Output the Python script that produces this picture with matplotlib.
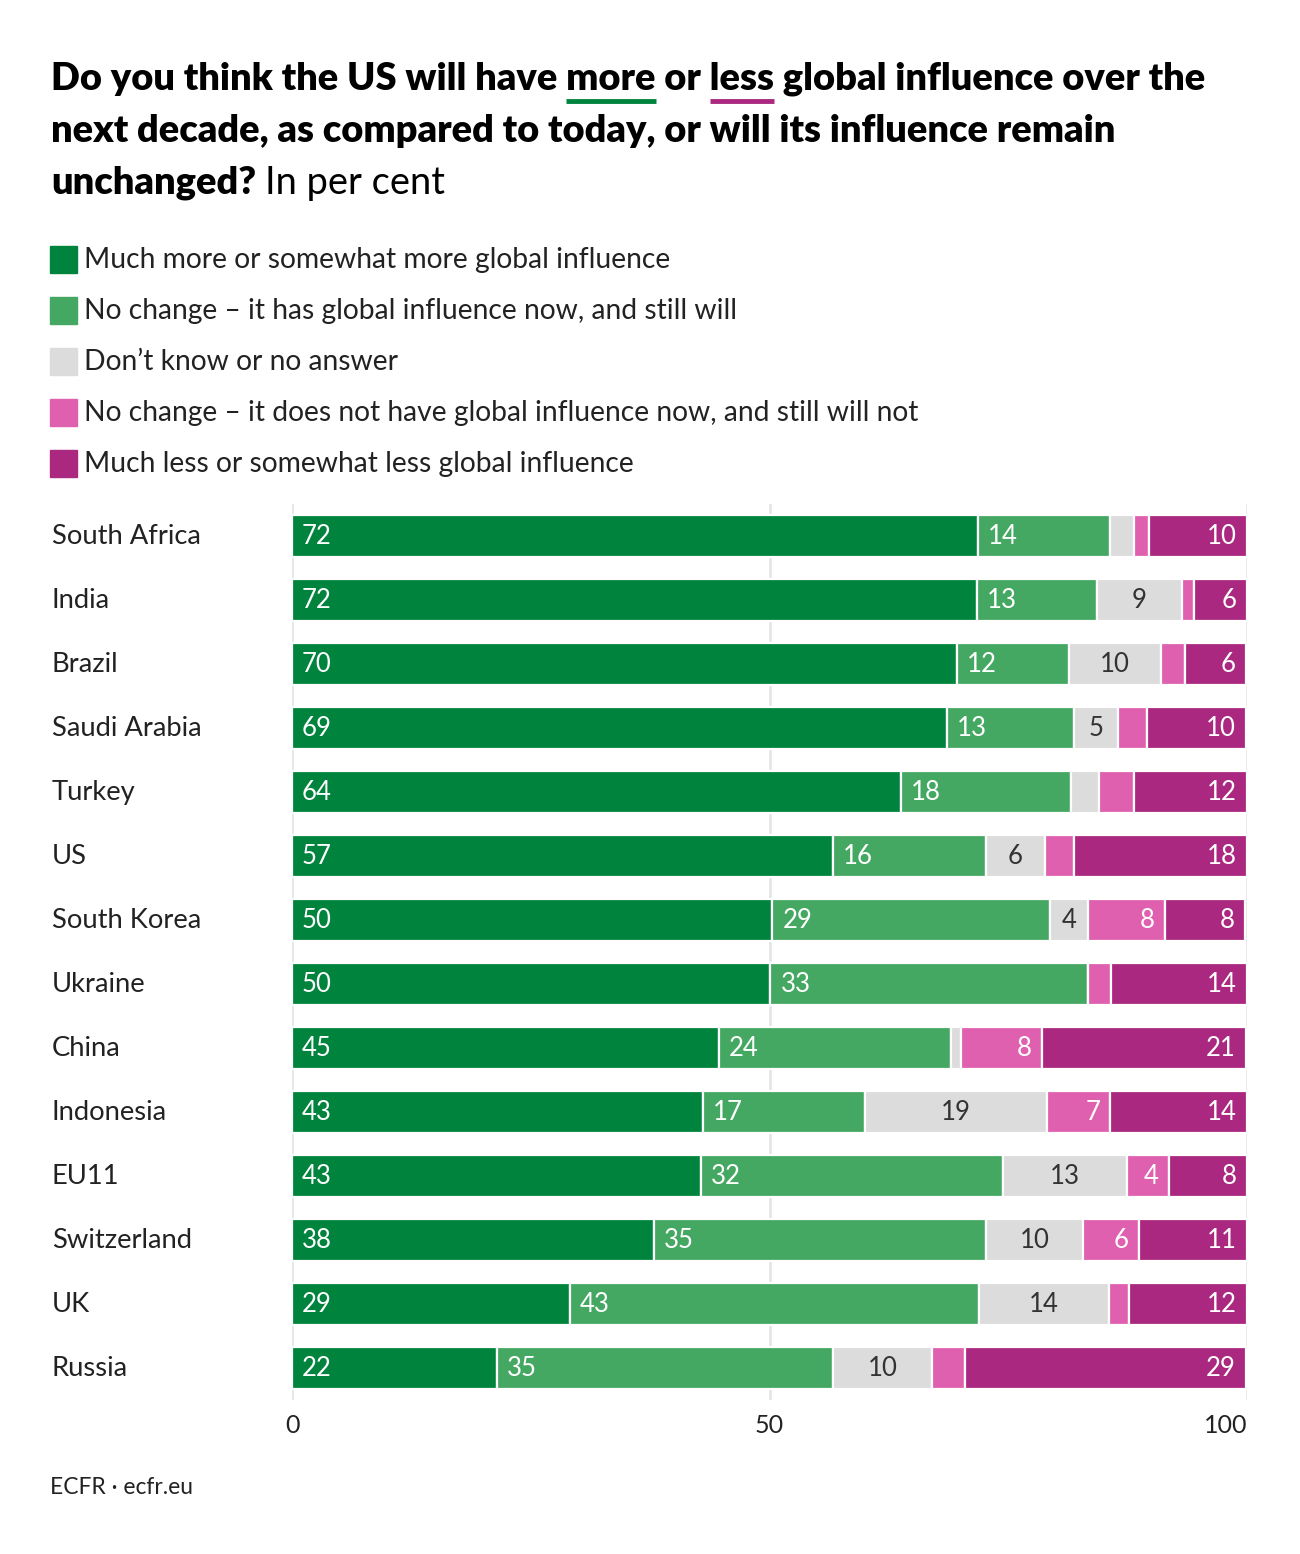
import matplotlib
matplotlib.use('Agg')
from matplotlib import pyplot as plt
from matplotlib import transforms
import numpy as np

# data (per cent)
countries = ['South Africa', 'India', 'Brazil', 'Saudi Arabia', 'Turkey', 'US', 'South Korea',
             'Ukraine', 'China', 'Indonesia', 'EU11', 'Switzerland', 'UK', 'Russia']
much_more = [71.8, 71.7, 69.6, 68.6, 63.8, 56.6, 50.3, 50.1, 44.7, 43.0, 42.8, 37.9, 29.1, 21.5]
has_now = [13.9, 12.6, 11.8, 13.3, 17.8, 16.1, 29.1, 33.3, 24.3, 17.0, 31.6, 34.8, 42.8, 35.2]
dont_know = [2.5, 8.9, 9.6, 4.6, 2.9, 6.1, 4.0, 0.0, 1.1, 19.1, 13.0, 10.1, 13.6, 10.3]
not_now = [1.5, 1.2, 2.5, 3.0, 3.7, 3.1, 8.0, 2.4, 8.4, 6.6, 4.4, 5.9, 2.1, 3.5]
much_less = [10.3, 5.6, 6.4, 10.4, 11.8, 18.1, 8.4, 14.2, 21.4, 14.3, 8.2, 11.3, 12.4, 29.4]

series_names = ['Much more or somewhat more global influence',
                'No change \u2013 it has global influence now, and still will',
                'Don\u2019t know or no answer',
                'No change \u2013 it does not have global influence now, and still will not',
                'Much less or somewhat less global influence']
colors = ['#00843d', '#45a862', '#dcdcdc', '#e060b0', '#ab2880']
text_colors = ['white', 'white', '#333333', 'white', 'white']
label_align = ['left', 'left', 'center', 'right', 'right']
xticks = [0, 50, 100]

plt.rcParams['font.family'] = ['Lato', 'DejaVu Sans']

W, H = 1300, 1554
fig = plt.figure(figsize=(W / 100, H / 100), dpi=100)


def px(x, y):
    return x / W, 1 - y / H


renderer = fig.canvas.get_renderer()


def text_width(s, **kw):
    t = fig.text(0, 0, s, **kw)
    w = t.get_window_extent(renderer).width
    t.remove()
    return w


# title
title_kw = dict(fontsize=27.4, fontweight='heavy', color='black')
line1 = 'Do you think the US will have more or less global influence over the'
fig.text(*px(51, 90), line1, va='baseline', **title_kw)
fig.text(*px(51, 142), 'next decade, as compared to today, or will its influence remain',
         va='baseline', **title_kw)
fig.text(*px(51, 194), 'unchanged?', va='baseline', **title_kw)
w_unch = text_width('unchanged? ', **title_kw)
fig.text(*px(51 + w_unch, 194), 'In per cent', va='baseline', fontsize=27.4, color='black')

# underline "more" and "less"
for word_start, word, col in [('Do you think the US will have ', 'more', colors[0]),
                              ('Do you think the US will have more or ', 'less', colors[4])]:
    x0 = 51 + text_width(word_start, **title_kw)
    x1 = x0 + text_width(word, **title_kw)
    fig.add_artist(plt.Line2D([x0 / W, x1 / W], [1 - 101 / H, 1 - 101 / H],
                              color=col, linewidth=3.5, solid_capstyle='butt'))

# legend
for i, name in enumerate(series_names):
    yc = 259 + i * 51
    fig.add_artist(plt.Rectangle(px(50, yc + 13.5), 27 / W, 27 / H, color=colors[i],
                                 transform=fig.transFigure))
    fig.text(*px(84, yc + 1), name, va='center', fontsize=20.3, color='#222222')

# bars
ax = fig.add_axes([292 / W, 1 - 1400 / H, (1247 - 292) / W, (1400 - 504) / H])
y = np.arange(len(countries))
data = [much_more, has_now, dont_know, not_now, much_less]
left = np.zeros(len(countries))
for k, vals in enumerate(data):
    vals = np.array(vals)
    ax.barh(y, vals, left=left, height=0.66, color=colors[k], edgecolor='white', linewidth=1.6,
            zorder=2)
    for i, v in enumerate(vals):
        if v < 3.9:
            continue
        if label_align[k] == 'left':
            xt, off = left[i], 10
        elif label_align[k] == 'center':
            xt, off = left[i] + v / 2, 0
        else:
            xt, off = left[i] + v, -10
        tr = ax.transData + transforms.ScaledTranslation(off / 100, 0, fig.dpi_scale_trans)
        ax.text(xt, i, str(int(round(v))), transform=tr, ha=label_align[k], va='center',
                fontsize=18.5, color=text_colors[k], zorder=3)
    left += vals

ax.set_xlim(0, 100)
ax.set_ylim(len(countries) - 0.5, -0.5)
ax.set_yticks([])
ax.set_xticks(xticks)
ax.set_xticklabels([str(t) for t in xticks], fontsize=18, color='#222222')
ax.get_xticklabels()[-1].set_ha('right')
ax.tick_params(axis='x', length=0, pad=10)
ax.grid(axis='x', color='#e6e6e6', linewidth=2, zorder=0)
ax.set_axisbelow(True)
for s in ax.spines.values():
    s.set_visible(False)

# country labels
trans = transforms.blended_transform_factory(fig.transFigure, ax.transData)
for i, c in enumerate(countries):
    ax.text(52 / W, i, c, transform=trans, ha='left', va='center', fontsize=19.7,
            color='#222222')

fig.text(*px(50, 1487), 'ECFR \u00b7 ecfr.eu', va='center', fontsize=16.4, color='#222222')

plt.savefig('out.png', dpi=100)
